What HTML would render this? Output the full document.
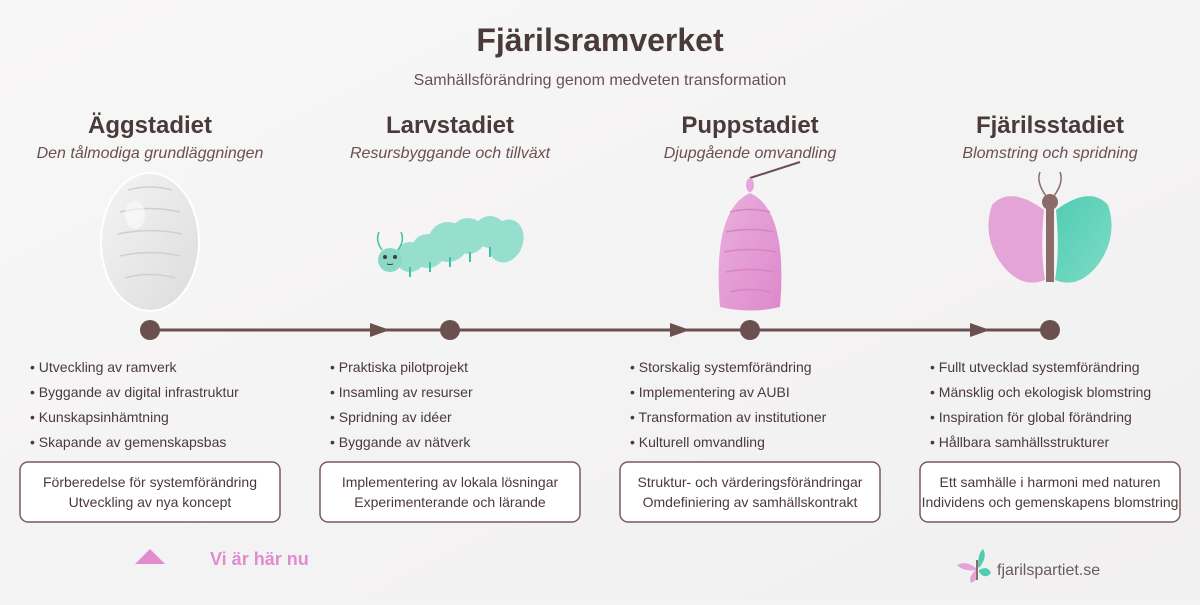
<!DOCTYPE html>
<html><head><meta charset="utf-8"><style>
body{margin:0;width:1200px;height:600px;overflow:hidden;background:#f4f3f3;font-family:"Liberation Sans",sans-serif}
</style></head><body>
<svg width="1200" height="600" viewBox="0 0 1200 600" xmlns="http://www.w3.org/2000/svg" font-family="Liberation Sans, sans-serif">
<defs>
<linearGradient id="bg" x1="0" y1="0" x2="1" y2="1"><stop offset="0" stop-color="#f8f7f7"/><stop offset="1" stop-color="#f1f0f0"/></linearGradient>
<linearGradient id="egg" x1="0" y1="0" x2="1" y2="1"><stop offset="0" stop-color="#f4f4f4"/><stop offset="1" stop-color="#dcdcdc"/></linearGradient>
<linearGradient id="pink" x1="0" y1="0" x2="1" y2="1"><stop offset="0" stop-color="#e9b0dd"/><stop offset="1" stop-color="#de88cc"/></linearGradient>
<linearGradient id="green" x1="0" y1="0" x2="1" y2="1"><stop offset="0" stop-color="#50ccb2"/><stop offset="1" stop-color="#7fdcc6"/></linearGradient>
</defs>
<rect width="1200" height="600" fill="url(#bg)"/>
<text x="600" y="51" text-anchor="middle" font-size="32" font-weight="bold" fill="#4a3a3a">Fjärilsramverket</text>
<text x="600" y="85" text-anchor="middle" font-size="16" fill="#6b5050">Samhällsförändring genom medveten transformation</text>
<g text-anchor="middle">
<g font-size="24" font-weight="bold" fill="#4a3a3a">
<text x="150" y="133">Äggstadiet</text><text x="450" y="133">Larvstadiet</text><text x="750" y="133">Puppstadiet</text><text x="1050" y="133">Fjärilsstadiet</text></g>
<g font-size="16" font-style="italic" fill="#6b5050">
<text x="150" y="158">Den tålmodiga grundläggningen</text><text x="450" y="158">Resursbyggande och tillväxt</text><text x="750" y="158">Djupgående omvandling</text><text x="1050" y="158">Blomstring och spridning</text></g>
</g>
<!-- egg -->
<ellipse cx="150" cy="242" rx="49" ry="69" fill="url(#egg)" stroke="#fff" stroke-width="2"/>
<g fill="none" stroke="#d0cece" stroke-width="1.5"><path d="M128 190 Q150 184 172 190"/><path d="M120 212 Q150 205 180 212"/><path d="M118 234 Q150 227 182 234"/><path d="M120 256 Q150 249 180 256"/><path d="M125 278 Q150 271 175 278"/></g>
<ellipse cx="135" cy="215" rx="10" ry="14" fill="#fff" opacity=".5"/>
<!-- caterpillar -->
<g fill="#86dbc8" opacity=".85">
<circle cx="410" cy="257" r="15"/><circle cx="428" cy="251" r="17"/><circle cx="448" cy="242" r="20"/><circle cx="468" cy="236" r="18"/><circle cx="490" cy="232" r="16"/><ellipse cx="506" cy="241" rx="17" ry="22" transform="rotate(20 506 241)"/></g>
<circle cx="390" cy="260" r="12" fill="#8ad9c6"/>
<circle cx="385" cy="257" r="2" fill="#4a3a3a"/><circle cx="395" cy="257" r="2" fill="#4a3a3a"/><path d="M387 264 Q390 265 393 264" stroke="#4a3a3a" fill="none"/>
<path d="M379 232 Q375 240 382 250 M401 232 Q405 240 398 250" stroke="#3cc3a5" stroke-width="1.5" fill="none"/>
<g stroke="#3cc3a5" stroke-width="2"><line x1="410" y1="267" x2="410" y2="277"/><line x1="430" y1="262" x2="430" y2="272"/><line x1="450" y1="257" x2="450" y2="267"/><line x1="470" y1="252" x2="470" y2="262"/><line x1="490" y1="247" x2="490" y2="257"/></g>
<!-- pupa -->
<line x1="750" y1="178" x2="800" y2="162" stroke="#6b4f4f" stroke-width="2"/>
<ellipse cx="750" cy="185" rx="4" ry="7" fill="#e6a8da"/>
<path d="M720 307 Q712 210 750 193 Q788 210 780 307 Q750 314 720 307 Z" fill="url(#pink)"/>
<g fill="none" stroke="#d882c6" stroke-width="1.5"><path d="M730 212 Q750 207 770 212"/><path d="M726 232 Q750 227 774 232"/><path d="M724 252 Q750 247 776 252"/><path d="M726 272 Q750 267 774 272"/><path d="M730 292 Q750 287 770 292"/></g>
<!-- butterfly -->
<path d="M1044 210 Q1010 185 992 205 Q982 235 1000 262 Q1020 290 1045 280 Q1040 250 1044 210Z" fill="#e5a4d7"/>
<path d="M1056 210 Q1090 185 1108 205 Q1118 235 1100 262 Q1080 290 1055 280 Q1060 250 1056 210Z" fill="url(#green)"/>
<rect x="1046" y="203" width="8" height="79" fill="#8c6b6b"/>
<circle cx="1050" cy="202" r="8" fill="#8c6b6b"/>
<path d="M1046 196 Q1036 182 1040 172 M1054 196 Q1064 182 1060 172" stroke="#8c6b6b" stroke-width="1.5" fill="none"/>
<!-- timeline -->
<line x1="150" y1="330" x2="1050" y2="330" stroke="#6b5050" stroke-width="3"/>
<g fill="#6b5050"><polygon points="370,323 390,330 370,337"/><polygon points="670,323 690,330 670,337"/><polygon points="970,323 990,330 970,337"/>
<circle cx="150" cy="330" r="10"/><circle cx="450" cy="330" r="10"/><circle cx="750" cy="330" r="10"/><circle cx="1050" cy="330" r="10"/></g>
<g font-size="14" fill="#4a3a3a">
<text x="30" y="372">• Utveckling av ramverk</text><text x="30" y="397">• Byggande av digital infrastruktur</text><text x="30" y="422">• Kunskapsinhämtning</text><text x="30" y="447">• Skapande av gemenskapsbas</text>
<text x="330" y="372">• Praktiska pilotprojekt</text><text x="330" y="397">• Insamling av resurser</text><text x="330" y="422">• Spridning av idéer</text><text x="330" y="447">• Byggande av nätverk</text>
<text x="630" y="372">• Storskalig systemförändring</text><text x="630" y="397">• Implementering av AUBI</text><text x="630" y="422">• Transformation av institutioner</text><text x="630" y="447">• Kulturell omvandling</text>
<text x="930" y="372">• Fullt utvecklad systemförändring</text><text x="930" y="397">• Mänsklig och ekologisk blomstring</text><text x="930" y="422">• Inspiration för global förändring</text><text x="930" y="447">• Hållbara samhällsstrukturer</text>
</g>
<g fill="#fff" stroke="#7a5a5a" stroke-width="1.5">
<rect x="20" y="462" width="260" height="60" rx="8"/><rect x="320" y="462" width="260" height="60" rx="8"/><rect x="620" y="462" width="260" height="60" rx="8"/><rect x="920" y="462" width="260" height="60" rx="8"/></g>
<g font-size="14" fill="#4a3a3a" text-anchor="middle">
<text x="150" y="487">Förberedelse för systemförändring</text><text x="150" y="507">Utveckling av nya koncept</text>
<text x="450" y="487">Implementering av lokala lösningar</text><text x="450" y="507">Experimenterande och lärande</text>
<text x="750" y="487">Struktur- och värderingsförändringar</text><text x="750" y="507">Omdefiniering av samhällskontrakt</text>
<text x="1050" y="487">Ett samhälle i harmoni med naturen</text><text x="1050" y="507">Individens och gemenskapens blomstring</text>
</g>
<polygon points="135,564 150,549 165,564" fill="#e08ccf"/>
<text x="210" y="565" font-size="18" font-weight="bold" fill="#e08ccf">Vi är här nu</text>
<path d="M976 568 Q966 560 957 565 Q964 572 976 570Z" fill="#e5a4d7"/>
<path d="M976 570 Q968 576 971 583 Q979 580 977 571Z" fill="#e5a4d7"/>
<path d="M978 566 Q978 553 983 549 Q988 557 979 568Z" fill="#50ccb2"/>
<path d="M979 570 Q988 565 991 573 Q985 580 979 572Z" fill="#50ccb2"/>
<line x1="977" y1="560" x2="977" y2="580" stroke="#8c6b6b" stroke-width="2"/>
<text x="997" y="575" font-size="16" fill="#6b5a5a">fjarilspartiet.se</text>
</svg>
</body></html>
